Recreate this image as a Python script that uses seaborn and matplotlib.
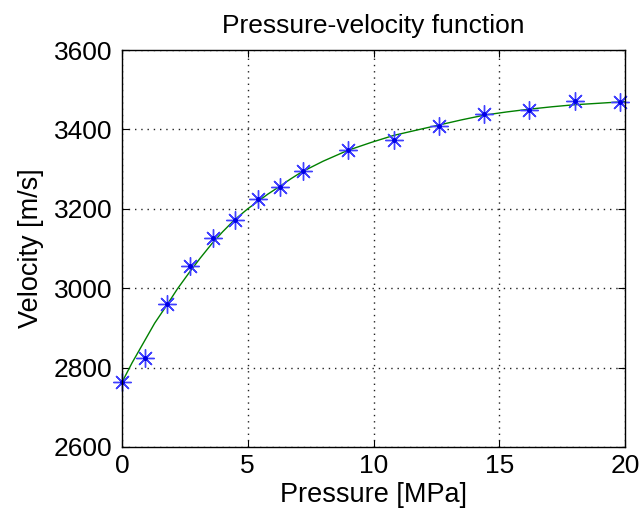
"""Pressure-velocity function — measured points and fitted curve"""

import numpy as np
import pandas as pd
import matplotlib
matplotlib.use('Agg')
import matplotlib.pyplot as plt
import seaborn as sns

pressure_meas = [0.0, 0.9, 1.8, 2.7, 3.6, 4.5, 5.4, 6.3, 7.2, 9.0, 10.8, 12.6, 14.4, 16.2, 18.0, 19.8]
velocity_meas = [2763, 2823, 2959, 3056, 3126, 3172, 3224, 3256, 3295, 3348, 3373, 3409, 3439, 3449, 3472, 3470]

# fitted curve
pressure_fit = [0.0, 0.4, 0.85, 1.3, 1.78, 2.2, 2.68, 3.1, 3.57, 4.0, 4.47, 5.0, 5.39, 5.8, 6.26, 6.7,
                7.15, 8.0, 8.97, 9.9, 10.81, 11.7, 12.6, 13.5, 14.41, 15.3, 16.2, 17.1, 17.97, 19.0, 20.0]
velocity_fit = [2763, 2812, 2862, 2912, 2957, 2998, 3040, 3075, 3112, 3142, 3172, 3200, 3218, 3237, 3256, 3275,
                3293, 3320, 3347, 3367, 3385, 3398, 3411, 3424, 3436, 3444, 3451, 3457, 3462, 3466, 3470]

x_ticks = [0, 5, 10, 15, 20]
y_ticks = [2600, 2800, 3000, 3200, 3400, 3600]

df_meas = pd.DataFrame({'p': pressure_meas, 'v': velocity_meas})
df_fit = pd.DataFrame({'p': pressure_fit, 'v': velocity_fit})

sns.set_style('ticks', {'text.color': 'black', 'axes.labelcolor': 'black'})
plt.rcParams['font.family'] = ['Liberation Sans', 'DejaVu Sans']

fig = plt.figure(figsize=(6.43, 5.23), dpi=100)
ax = fig.add_axes([122 / 643, 1 - 447 / 523, 503 / 643, 397 / 523])

# 拟合曲线
sns.lineplot(data=df_fit, x='p', y='v', ax=ax, color=(0, 0.5, 0), linewidth=1.0, sort=False)

# 测量点: 星号 + 中心点
ax.plot(df_meas['p'], df_meas['v'], linestyle='none', marker=(8, 2, 0), markersize=13,
        markeredgewidth=1.0, color=(0.25, 0.25, 1.0), clip_on=False)
ax.plot(df_meas['p'], df_meas['v'], linestyle='none', marker='o', markersize=2.5,
        color=(0, 0, 0.9), clip_on=False)

ax.set_xlim(0, 20)
ax.set_ylim(2600, 3600)
ax.set_xticks(x_ticks)
ax.set_yticks(y_ticks)
ax.grid(True, color='#222222', linestyle=(0, (1, 3.5)), linewidth=1.0)
ax.tick_params(direction='in', top=True, right=True, length=5, labelsize=19,
               colors='black', labelcolor='black')
ax.tick_params(axis='y', pad=7)
ax.tick_params(axis='x', pad=5)
for s in ax.spines.values():
    s.set_visible(True)
    s.set_color('black')
    s.set_linewidth(1.0)

ax.set_xlabel('Pressure [MPa]', fontsize=19.5, labelpad=3, color='black')
ax.set_ylabel('Velocity [m/s]', fontsize=19.5, labelpad=7, color='black')
ax.set_title('Pressure-velocity function', fontsize=19, pad=12, color='black')

fig.savefig('out.png', dpi=100)
